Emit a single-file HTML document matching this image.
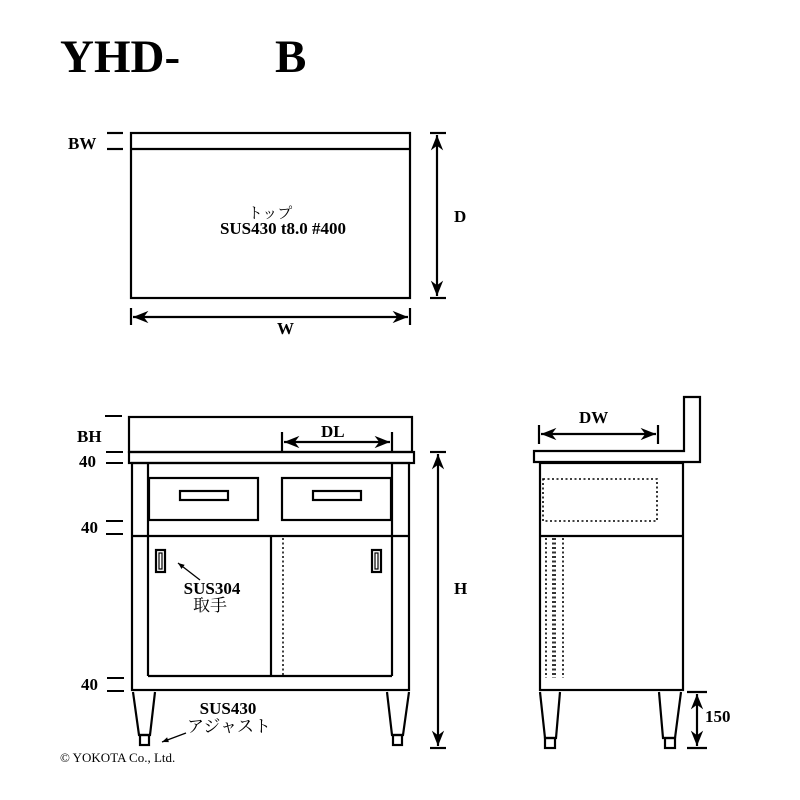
<!DOCTYPE html><html><head><meta charset="utf-8"><style>body{margin:0;background:#fff}svg{display:block}text{font-family:"Liberation Serif","Noto Serif CJK SC",serif;fill:#000}.b{font-weight:bold}</style></head><body>
<svg width="800" height="800" viewBox="0 0 800 800" xmlns="http://www.w3.org/2000/svg">
<defs><marker id="a" viewBox="0 0 10 10" refX="10" refY="5" markerWidth="7" markerHeight="7" orient="auto-start-reverse"><path d="M0,1 L10,5 L0,9 L3,5z" fill="#000"/></marker>
<marker id="s" viewBox="0 0 10 10" refX="10" refY="5" markerWidth="5" markerHeight="5" orient="auto"><path d="M0,1 L10,5 L0,9z" fill="#000"/></marker></defs>
<text x="60" y="72" class="b" font-size="47">YHD-</text>
<text x="275" y="72" class="b" font-size="47">B</text>
<g fill="none" stroke="#000" stroke-width="2.2">
<rect x="131" y="133" width="279" height="165"/>
<line x1="131" y1="149" x2="410" y2="149"/>
<line x1="107" y1="133" x2="123" y2="133"/><line x1="107" y1="149" x2="123" y2="149"/>
<line x1="430" y1="133" x2="446" y2="133"/><line x1="430" y1="298" x2="446" y2="298"/>
<line x1="437" y1="135" x2="437" y2="296" marker-start="url(#a)" marker-end="url(#a)"/>
<line x1="131" y1="308" x2="131" y2="325"/><line x1="410" y1="308" x2="410" y2="325"/>
<line x1="133" y1="317" x2="408" y2="317" marker-start="url(#a)" marker-end="url(#a)"/>
<rect x="129" y="417" width="283" height="35"/>
<rect x="129" y="452" width="285" height="11"/>
<rect x="132" y="463" width="277" height="227"/>
<line x1="148" y1="463" x2="148" y2="676"/><line x1="392" y1="463" x2="392" y2="676"/>
<rect x="149" y="478" width="109" height="42"/><rect x="282" y="478" width="109" height="42"/>
<rect x="180" y="491" width="48" height="9"/><rect x="313" y="491" width="48" height="9"/>
<line x1="132" y1="536" x2="409" y2="536"/>
<line x1="148" y1="676" x2="392" y2="676"/>
<line x1="271" y1="536" x2="271" y2="676"/>
<line x1="283" y1="538" x2="283" y2="676" stroke-dasharray="2,2.5" stroke-width="1.5"/>
<rect x="156" y="550" width="9" height="22"/><rect x="372" y="550" width="9" height="22"/>
<rect x="159" y="553" width="3" height="16" stroke-width="1.2"/><rect x="375" y="553" width="3" height="16" stroke-width="1.2"/>
<path d="M133,692 L139,735 L150,735 L155,692"/><rect x="140" y="735" width="9" height="10"/>
<path d="M387,692 L392,735 L403,735 L409,692"/><rect x="393" y="735" width="9" height="10"/>
<line x1="282" y1="432" x2="282" y2="453"/><line x1="392" y1="432" x2="392" y2="453"/>
<line x1="284" y1="442" x2="390" y2="442" marker-start="url(#a)" marker-end="url(#a)"/>
<line x1="430" y1="452" x2="446" y2="452"/><line x1="430" y1="748" x2="446" y2="748"/>
<line x1="438" y1="454" x2="438" y2="746" marker-start="url(#a)" marker-end="url(#a)"/>
<g stroke-width="2"><line x1="105" y1="416" x2="122" y2="416"/>
<line x1="106" y1="452" x2="123" y2="452"/><line x1="106" y1="463" x2="123" y2="463"/>
<line x1="106" y1="521" x2="123" y2="521"/><line x1="106" y1="534" x2="123" y2="534"/>
<line x1="107" y1="678" x2="124" y2="678"/><line x1="107" y1="691" x2="124" y2="691"/></g>
<g stroke-width="1.3"><line x1="200" y1="580" x2="178" y2="563" marker-end="url(#s)"/>
<line x1="186" y1="733" x2="162" y2="742" marker-end="url(#s)"/></g>
<path d="M534,451 L684,451 L684,397 L700,397 L700,462 L534,462 Z"/>
<rect x="540" y="463" width="143" height="227"/>
<line x1="540" y1="536" x2="683" y2="536"/>
<rect x="543" y="479" width="114" height="42" stroke-dasharray="2,2.5" stroke-width="1.6"/>
<g stroke-dasharray="2,2.5" stroke-width="1.6"><line x1="546" y1="538" x2="546" y2="678"/><line x1="553" y1="538" x2="553" y2="678"/><line x1="555" y1="538" x2="555" y2="678"/><line x1="563" y1="538" x2="563" y2="678"/></g>
<path d="M540,692 L545,738 L556,738 L560,692"/><rect x="545" y="738" width="10" height="10"/>
<path d="M659,692 L663,738 L675,738 L681,692"/><rect x="665" y="738" width="10" height="10"/>
<line x1="539" y1="425" x2="539" y2="444"/><line x1="658" y1="425" x2="658" y2="444"/>
<line x1="541" y1="434" x2="656" y2="434" marker-start="url(#a)" marker-end="url(#a)"/>
<line x1="687" y1="692" x2="707" y2="692"/><line x1="687" y1="748" x2="707" y2="748"/>
<line x1="697" y1="694" x2="697" y2="746" marker-start="url(#a)" marker-end="url(#a)"/>
</g>
<text x="68" y="149" class="b" font-size="17">BW</text>
<text x="454" y="222" class="b" font-size="17">D</text>
<text x="277" y="334" class="b" font-size="17">W</text>
<text x="270" y="218" text-anchor="middle" font-size="15">トップ</text>
<text x="283" y="234" text-anchor="middle" class="b" font-size="17">SUS430 t8.0 #400</text>
<text x="77" y="442" class="b" font-size="17">BH</text>
<text x="321" y="437" class="b" font-size="17">DL</text>
<text x="79" y="467" class="b" font-size="17">40</text>
<text x="81" y="533" class="b" font-size="17">40</text>
<text x="81" y="690" class="b" font-size="17">40</text>
<text x="454" y="594" class="b" font-size="17">H</text>
<text x="212" y="594" text-anchor="middle" class="b" font-size="17">SUS304</text>
<text x="210" y="611" text-anchor="middle" font-size="17">取手</text>
<text x="228" y="714" text-anchor="middle" class="b" font-size="17">SUS430</text>
<text x="229" y="732" text-anchor="middle" font-size="17">アジャスト</text>
<text x="60" y="762" font-size="13">© YOKOTA Co., Ltd.</text>
<text x="579" y="423" class="b" font-size="17">DW</text>
<text x="705" y="722" class="b" font-size="17">150</text>
</svg></body></html>
